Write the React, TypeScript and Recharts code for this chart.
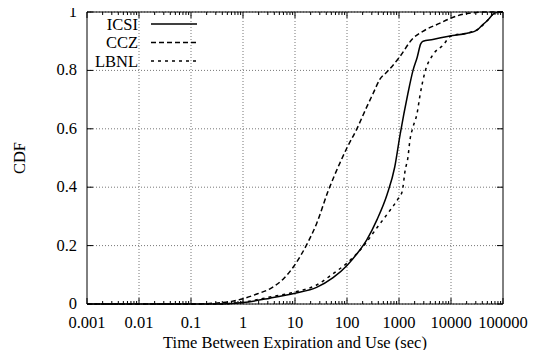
import React from 'react';
import {
  LineChart,
  Line,
  XAxis,
  YAxis,
  CartesianGrid,
  ReferenceLine,
  ReferenceArea,
  Legend,
  Label,
} from 'recharts';

// ---------- data ----------
const xMajorTicks = [0.001, 0.01, 0.1, 1, 10, 100, 1000, 10000, 100000];
const xTickLabels = ['0.001', '0.01', '0.1', '1', '10', '100', '1000', '10000', '100000'];
const minorMultipliers = [2, 3, 4, 5, 6, 7, 8, 9];
const yTicks = [0, 0.2, 0.4, 0.6, 0.8, 1];
const yTickLabels = ['0', '0.2', '0.4', '0.6', '0.8', '1'];

// [seconds, CDF]
const icsiPoints: [number, number][] = [
  [0.001, 0], [0.3, 0], [0.6, 0.002], [1, 0.005], [3.3, 0.02], [10, 0.037],
  [26, 0.057], [54, 0.09], [100, 0.132], [155, 0.172], [240, 0.22], [380, 0.29],
  [590, 0.375], [830, 0.47], [1050, 0.58], [1480, 0.72], [1860, 0.8], [2240, 0.845],
  [2600, 0.89], [2900, 0.9], [4470, 0.906], [9550, 0.918], [20400, 0.927],
  [31600, 0.938], [40000, 0.955], [49000, 0.969], [70800, 0.997], [100000, 1],
];
const cczPoints: [number, number][] = [
  [0.001, 0], [0.1, 0], [0.3, 0.003], [0.6, 0.009], [1, 0.018], [1.9, 0.035],
  [3.3, 0.052], [5.9, 0.085], [10, 0.135], [17, 0.205], [26, 0.275], [43, 0.385],
  [74, 0.485], [100, 0.535], [155, 0.6], [240, 0.675], [316, 0.72], [430, 0.77],
  [590, 0.795], [1000, 0.843], [1860, 0.91], [2880, 0.934], [6170, 0.962],
  [10000, 0.979], [20400, 0.995], [50000, 1], [100000, 1],
];
const lbnlPoints: [number, number][] = [
  [0.001, 0], [0.3, 0], [0.6, 0.002], [1, 0.006], [3.3, 0.024], [10, 0.041],
  [26, 0.065], [54, 0.104], [100, 0.14], [200, 0.195], [380, 0.262], [680, 0.322],
  [1000, 0.365], [1150, 0.385], [1320, 0.46], [1480, 0.5], [1620, 0.56],
  [1860, 0.606], [2240, 0.655], [2510, 0.71], [3160, 0.795], [4470, 0.853],
  [7080, 0.887], [10000, 0.918], [20400, 0.928], [31600, 0.939], [49000, 0.969],
  [70800, 0.997], [100000, 1],
];

const SERIES = [
  { name: 'ICSI', points: icsiPoints, dash: undefined as string | undefined },
  { name: 'CCZ', points: cczPoints, dash: '5 3' },
  { name: 'LBNL', points: lbnlPoints, dash: '3 4' },
];

// ---------- layout ----------
const W = 540;
const H = 358;
const MARGIN = { top: 12, right: 37, left: 0, bottom: 0 };
const Y_AXIS_W = 87;
const X_AXIS_H = 54;
const PLOT_RIGHT = W - MARGIN.right;
const PLOT_TOP = MARGIN.top;
const FONT = '"Liberation Serif", "Times New Roman", serif';
const FS = 16.5;

const allXTicks: number[] = [];
xMajorTicks.forEach((m, i) => {
  allXTicks.push(m);
  if (i < xMajorTicks.length - 1) minorMultipliers.forEach((k) => allXTicks.push(+(m * k).toPrecision(6)));
});

const majorIndex = (v: number) => xMajorTicks.findIndex((m) => Math.abs(m - v) / m < 1e-6);

const XTick = (props: any) => {
  const { x, y, payload } = props;
  const idx = majorIndex(payload.value);
  const len = idx >= 0 ? 6 : 3;
  return (
    <g>
      <line x1={x} x2={x} y1={y} y2={y - len} stroke="#000" strokeWidth={1} />
      <line x1={x} x2={x} y1={PLOT_TOP} y2={PLOT_TOP + len} stroke="#000" strokeWidth={1} />
      {idx >= 0 && (
        <text x={x} y={y + 23.5} textAnchor="middle" fontFamily={FONT} fontSize={FS} fill="#000">
          {xTickLabels[idx]}
        </text>
      )}
    </g>
  );
};

const YTick = (props: any) => {
  const { x, y, payload } = props;
  const idx = yTicks.findIndex((t) => Math.abs(t - payload.value) < 1e-9);
  return (
    <g>
      <line x1={x} x2={x + 6} y1={y} y2={y} stroke="#000" strokeWidth={1} />
      <line x1={PLOT_RIGHT} x2={PLOT_RIGHT - 6} y1={y} y2={y} stroke="#000" strokeWidth={1} />
      <text x={x - 10} y={y + 5} textAnchor="end" fontFamily={FONT} fontSize={FS} fill="#000">
        {idx >= 0 ? yTickLabels[idx] : ''}
      </text>
    </g>
  );
};

const renderLegend = () => (
  <svg width={210} height={75} style={{ display: 'block' }}>
    {SERIES.map((s, i) => {
      const cy = 24 + i * 18.5;
      return (
        <g key={s.name}>
          <text x={138} y={cy + 5.5} textAnchor="end" fontFamily={FONT} fontSize={FS} fill="#000">
            {s.name}
          </text>
          <line x1={151} x2={197} y1={cy} y2={cy} stroke="#000" strokeWidth={1.3} strokeDasharray={s.dash} />
        </g>
      );
    })}
  </svg>
);

const renderXLabel = (props: any) => {
  const vb = props.viewBox || {};
  return (
    <text x={vb.x + vb.width / 2} y={vb.y + 44} textAnchor="middle" fontFamily={FONT} fontSize={FS} fill="#000">
      Time Between Expiration and Use (sec)
    </text>
  );
};

const renderYLabel = (props: any) => {
  const vb = props.viewBox || {};
  const cx = 25;
  const cy = vb.y + vb.height / 2;
  return (
    <text x={cx} y={cy} transform={`rotate(-90, ${cx}, ${cy})`} textAnchor="middle" fontFamily={FONT} fontSize={FS} fill="#000">
      CDF
    </text>
  );
};

export default function App() {
  return (
    <div style={{ margin: -8, width: W, height: H, background: '#fff' }}>
      <LineChart width={W} height={H} margin={MARGIN}>
        <CartesianGrid vertical={false} stroke="#777" strokeDasharray="1 2" />
        <XAxis
          dataKey="x"
          type="number"
          scale="log"
          domain={[0.001, 100000]}
          allowDataOverflow
          ticks={allXTicks}
          interval={0}
          tickSize={0}
          tickMargin={0}
          axisLine={false}
          tick={<XTick />}
          height={X_AXIS_H}
        >
          <Label content={renderXLabel} />
        </XAxis>
        <YAxis
          dataKey="y"
          type="number"
          domain={[0, 1]}
          ticks={yTicks}
          interval={0}
          tickSize={0}
          tickMargin={0}
          axisLine={false}
          tick={<YTick />}
          width={Y_AXIS_W}
        >
          <Label content={renderYLabel} />
        </YAxis>
        {xMajorTicks.slice(1, -1).map((v) => (
          <ReferenceLine key={v} x={v} stroke="#777" strokeDasharray="1 2" />
        ))}
        {SERIES.map((s) => (
          <Line
            key={s.name}
            name={s.name}
            data={s.points.map(([x, y]) => ({ x, y }))}
            dataKey="y"
            type="monotone"
            stroke="#000"
            strokeWidth={1.5}
            strokeDasharray={s.dash}
            dot={false}
            activeDot={false}
            isAnimationActive={false}
          />
        ))}
        <ReferenceArea x1={0.001} x2={100000} y1={0} y2={1} fill="none" stroke="#000" strokeWidth={1} fillOpacity={0} />
        <Legend
          layout="vertical"
          align="center"
          verticalAlign="middle"
          content={renderLegend}
          wrapperStyle={{ left: 0, top: 0, width: 210, height: 75 }}
        />
      </LineChart>
    </div>
  );
}
